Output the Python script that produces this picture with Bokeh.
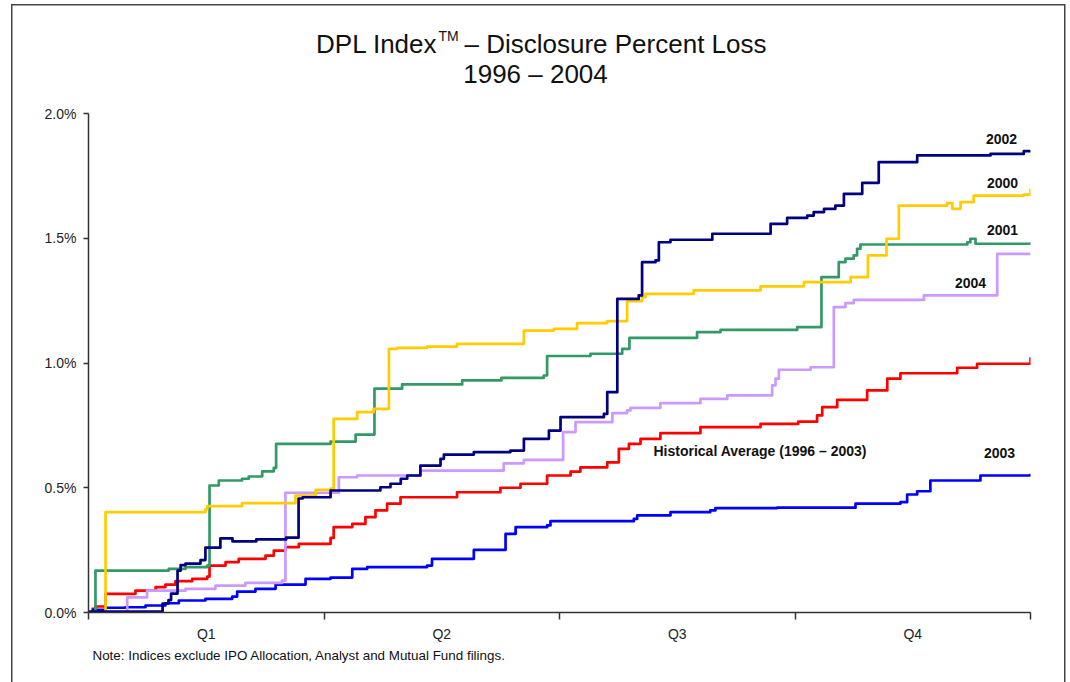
from bokeh.plotting import figure
from bokeh.models import Range1d, FixedTicker, PrintfTickFormatter, Label, Title
from bokeh.embed import file_html
from bokeh.resources import INLINE

# ---------------- data (day of year, cumulative % loss) ----------------
quarter_labels = ["Q1", "Q2", "Q3", "Q4"]
y_ticks = [0.0, 0.5, 1.0, 1.5, 2.0]

day_2002 = [0, 28.7, 31, 32, 34.5, 35.7, 37.6, 43.4, 45.3, 51.1, 55.8, 65, 76.6, 81.4, 83, 93.8,
            113.1, 117, 121, 123.5, 128.6, 136.4, 137.7, 149.3, 163.5, 168.7, 178.4, 182.9,
            199.7, 201, 204.9, 213.2, 214.5, 219.7, 221, 225.5, 241.7, 264.3, 270.7, 278.5,
            281, 285, 289.4, 292.7, 299.8, 306.2, 321.1, 349.5, 362.4, 365]
pct_2002 = [0.004, 0.036, 0.05, 0.076, 0.168, 0.19, 0.196, 0.21, 0.26, 0.297, 0.285, 0.293, 0.30,
            0.457, 0.462, 0.489, 0.502, 0.516, 0.536, 0.549, 0.589, 0.616, 0.633, 0.643, 0.649,
            0.696, 0.729, 0.783, 0.796, 0.883, 1.257, 1.271, 1.404, 1.411, 1.484, 1.494, 1.518,
            1.558, 1.582, 1.591, 1.605, 1.618, 1.631, 1.678, 1.722, 1.805, 1.832, 1.838, 1.849, 1.853]

day_2000 = [1, 6.6, 45.3, 46, 59.5, 80.2, 88, 93.8, 95, 104.1, 110.5, 116.4, 119.7, 131.2, 142.8,
            168.7, 180.3, 189.3, 201, 208.7, 214.5, 215.8, 234.5, 260.4, 277.2, 295.3, 302,
            309.2, 314, 332.7, 334.7, 337.9, 343, 362.4, 365]
pct_2000 = [0.0, 0.402, 0.413, 0.426, 0.438, 0.469, 0.492, 0.497, 0.776, 0.803, 0.816, 1.057, 1.061,
            1.066, 1.077, 1.130, 1.137, 1.160, 1.168, 1.248, 1.264, 1.277, 1.291, 1.307, 1.324,
            1.344, 1.431, 1.498, 1.631, 1.641, 1.618, 1.645, 1.671, 1.675, 1.698]

day_2001 = [1.2, 2.7, 31.1, 37.6, 46, 46.9, 50.5, 59.5, 62.1, 67.3, 71.8, 72.7, 93.8, 103.5, 110.8,
            121.5, 144.8, 160, 176.4, 177.7, 194.5, 206.8, 209.6, 235.8, 244.9, 274.6, 284,
            290.7, 293.3, 296.5, 297.8, 299.1, 340.5, 341.7, 343.7, 365]
pct_2001 = [0.0, 0.168, 0.175, 0.182, 0.188, 0.509, 0.529, 0.536, 0.545, 0.566, 0.580, 0.676, 0.685,
            0.713, 0.897, 0.914, 0.930, 0.940, 0.950, 1.028, 1.037, 1.057, 1.101, 1.124, 1.133,
            1.144, 1.344, 1.404, 1.418, 1.431, 1.458, 1.475, 1.484, 1.498, 1.478, 1.484]

day_2004 = [13.7, 15, 22.7, 37.6, 49.2, 60.8, 75, 76.3, 97, 104.1, 128.6, 160.9, 168.7, 183.9,
            188.7, 203, 208.7, 210, 221.6, 237.1, 247.5, 264.9, 266.2, 267.5, 279.8, 288.8,
            293.3, 296.5, 323.7, 352.1, 365]
pct_2004 = [0.0, 0.061, 0.088, 0.095, 0.108, 0.119, 0.128, 0.480, 0.542, 0.549, 0.569, 0.598, 0.612,
            0.723, 0.763, 0.799, 0.810, 0.820, 0.839, 0.856, 0.870, 0.910, 0.937, 0.973, 0.983,
            1.224, 1.240, 1.253, 1.271, 1.437, 1.437]

day_avg = [1.2, 2.7, 6.6, 18.2, 26, 29.8, 33.7, 40.2, 46, 46.9, 53.1, 58.2, 68.6, 71.8, 76.3, 81.5,
           93.8, 95, 102.2, 107.3, 111.2, 115.7, 120.9, 142.8, 159.6, 167.4, 177.7, 186.8, 190.6,
           201, 205.5, 209.4, 213.9, 221.6, 237.1, 260.4, 275, 282.3, 284.3, 290.1, 301.7,
           309.5, 314.6, 336.6, 344.3, 365]
pct_avg = [0.015, 0.024, 0.075, 0.088, 0.102, 0.112, 0.126, 0.135, 0.144, 0.188, 0.202, 0.215,
           0.228, 0.248, 0.262, 0.275, 0.299, 0.342, 0.355, 0.382, 0.409, 0.436, 0.462, 0.482,
           0.500, 0.516, 0.549, 0.565, 0.582, 0.602, 0.656, 0.676, 0.696, 0.719, 0.743, 0.756,
           0.765, 0.790, 0.823, 0.852, 0.890, 0.937, 0.959, 0.981, 0.997, 1.023]

day_2003 = [1.2, 6.6, 14.3, 22.1, 29.8, 35, 45.3, 55.7, 57.6, 64.7, 72.5, 84.1, 93.8, 102.2, 108,
            131.2, 133.1, 149.3, 161.6, 165.5, 177.7, 179, 211.3, 212.6, 225.5, 240.9, 242.9,
            266.8, 297.2, 314.6, 317.2, 321.1, 326.2, 345.6, 365]
pct_2003 = [0.011, 0.019, 0.021, 0.028, 0.037, 0.048, 0.055, 0.064, 0.084, 0.095, 0.112, 0.135,
            0.140, 0.175, 0.182, 0.188, 0.215, 0.251, 0.315, 0.342, 0.349, 0.366, 0.375, 0.389,
            0.402, 0.409, 0.418, 0.420, 0.436, 0.442, 0.473, 0.486, 0.529, 0.549, 0.556]

# ---------------- layout ----------------
W, H = 1070, 682
FL, FR, FT, FB = 88, 1030, 113, 612   # px position of x=0/365 and y=2.0/0.0
TOP = 10                              # frame top (room for the title inside the frame)
X0, X1 = 0, 365
Y0, Y1 = 0.0, 2.0
FONT = "Liberation Sans"


def dx(px):
    return X0 + (px - FL) * (X1 - X0) / (FR - FL)


def dy(py):
    return Y0 + (FB - py) * (Y1 - Y0) / (FB - FT)


p = figure(width=W, height=H, x_range=Range1d(X0, X1), y_range=Range1d(Y0, dy(TOP)),
           output_backend="svg", toolbar_location=None,
           min_border_left=FL, min_border_right=W - FR, min_border_top=TOP, min_border_bottom=H - FB)
p.title.visible = False
p.xgrid.visible = False
p.ygrid.visible = False
p.outline_line_color = None
p.background_fill_color = "white"
p.border_fill_alpha = 0.0
p.styles = {
    "background-color": "white",
    "background-image": ("linear-gradient(#444,#444), linear-gradient(#444,#444), "
                         "linear-gradient(#444,#444)"),
    "background-position": "11px 4px, 11px 4px, 1064px 4px",
    "background-size": "1.5px 100%, 1054px 1.5px, 1.5px 100%",
    "background-repeat": "no-repeat",
}

# y axis (line limited to 0 – 2.0 %)
p.yaxis.bounds = (Y0, Y1)
p.yaxis.ticker = FixedTicker(ticks=y_ticks)
p.yaxis.formatter = PrintfTickFormatter(format="%.1f%%")
p.yaxis.major_tick_out = 5
p.yaxis.major_tick_in = 0
p.yaxis.minor_tick_line_color = None
p.yaxis.major_label_standoff = 7
p.yaxis.major_label_text_font = FONT
p.yaxis.major_label_text_font_size = "14px"
p.yaxis.major_label_text_color = "#222222"
p.yaxis.axis_line_color = "#333333"
p.yaxis.axis_line_width = 1.5
p.yaxis.major_tick_line_color = "#333333"
p.yaxis.major_tick_line_width = 1.5

# x axis: quarter labels at centres, tick marks at boundaries
q_len = (X1 - X0) / 4
centers = [X0 + q_len * (i + 0.5) for i in range(4)]
bounds = [X0 + q_len * i for i in range(5)]
p.xaxis.ticker = FixedTicker(ticks=centers, minor_ticks=bounds)
p.xaxis.major_label_overrides = {c: lab for c, lab in zip(centers, quarter_labels)}
p.xaxis.major_tick_line_color = None
p.xaxis.major_tick_out = 0
p.xaxis.major_tick_in = 0
p.xaxis.minor_tick_out = 7
p.xaxis.minor_tick_in = 0
p.xaxis.minor_tick_line_color = "#333333"
p.xaxis.minor_tick_line_width = 1.5
p.xaxis.major_label_standoff = 6
p.xaxis.major_label_text_font = FONT
p.xaxis.major_label_text_font_size = "14px"
p.xaxis.major_label_text_color = "#222222"
p.xaxis.axis_line_color = "#333333"
p.xaxis.axis_line_width = 1.5

LW = 2.7
series = [
    (day_avg, pct_avg, "#FF0000"),
    (day_2003, pct_2003, "#0000FF"),
    (day_2004, pct_2004, "#CC99FF"),
    (day_2001, pct_2001, "#339966"),
    (day_2000, pct_2000, "#FFCC00"),
    (day_2002, pct_2002, "#000080"),
]
for xs, ys, col in series:
    p.step(x=xs, y=ys, mode="after", line_color=col, line_width=LW, line_join="round")


def text(px, py, s, size, align="left", baseline="alphabetic", style="normal"):
    p.add_layout(Label(x=dx(px), y=dy(py), text=s, text_font=FONT, text_font_size=size,
                       text_font_style=style, text_align=align, text_baseline=baseline,
                       text_color="#111111"))


# series labels
text(1001, 138, "2002", "14px", "center", "middle", "bold")
text(1002, 182, "2000", "14px", "center", "middle", "bold")
text(1002, 229, "2001", "14px", "center", "middle", "bold")
text(970, 282, "2004", "14px", "center", "middle", "bold")
text(999, 452, "2003", "14px", "center", "middle", "bold")
text(653, 450, "Historical Average (1996 – 2003)", "14px", "left", "middle", "bold")

# title with superscript TM
text(437, 43, "DPL Index", "26px", "right")
text(438, 35.5, "TM", "14px", "left")
text(464, 43, "– Disclosure Percent Loss", "26px", "left")
text(535, 73, "1996 – 2004", "26px", "center")

# note below the axis
p.add_layout(Title(text="Note:  Indices exclude IPO Allocation, Analyst and Mutual Fund filings.",
                   align="left", offset=4, standoff=3, text_font=FONT, text_font_size="13.4px",
                   text_font_style="normal", text_color="#111111"), "below")

open("out.html", "w").write(file_html(p, INLINE))
